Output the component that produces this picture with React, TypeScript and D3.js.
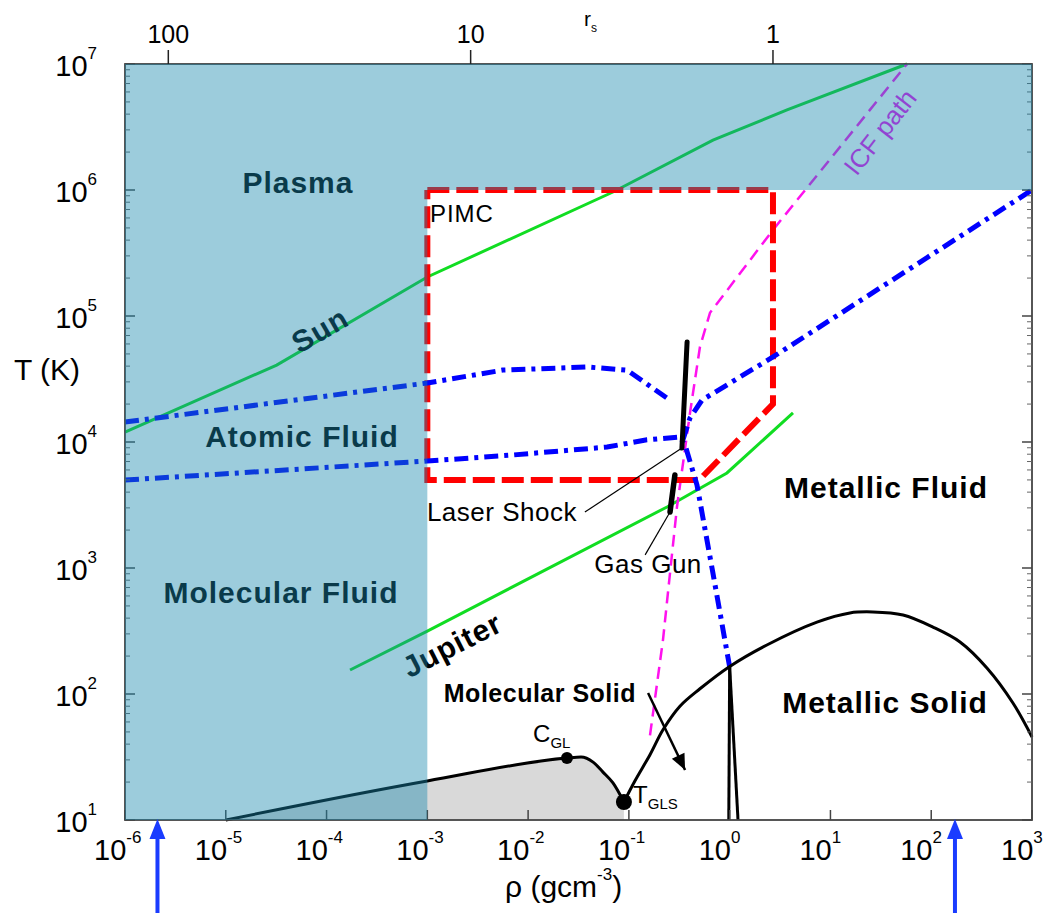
import React from "react";
import * as d3 from "d3";

type Pt = [number, number];

// [density g/cm^3, temperature K]
const sunPath: Pt[] = [[1e-6, 12000], [3.2e-5, 40800], [1e-3, 204000], [0.0695, 964000], [0.683, 2.49e6], [3.71, 4.32e6], [57.5, 1e7]];
const jupiterPath: Pt[] = [[1.71e-4, 155], [1e-3, 316], [0.239, 3050], [0.94, 5680], [4.25, 17000]];
const icfPath: Pt[] = [[0.162, 47], [0.218, 269], [0.3, 3050], [0.404, 17000], [0.507, 56800], [0.638, 106000], [1.0, 170000], [2.69, 482000], [57.5, 1e7]];
const dissocUpper: Pt[] = [[1e-6, 14400], [1e-3, 29400], [5.6e-3, 37200], [0.0384, 39400], [0.0957, 37200], [0.256, 21500]];
const dissocLower: Pt[] = [[1e-6, 4990], [1e-3, 7060], [7.08e-3, 7890], [0.0607, 9120], [0.151, 10400], [0.321, 10960], [0.361, 9460], [0.474, 4560], [0.682, 912], [1.0, 164]];
const metalBoundary: Pt[] = [[0.344, 10400], [0.404, 15500], [0.531, 21500], [2.69, 47300], [1000, 1e6]];
const meltCurve: Pt[] = [[0.0893, 13.9], [0.115, 20.5], [0.162, 33.0], [0.218, 52], [0.321, 80], [0.507, 110], [0.984, 164], [2.34, 245], [7.35, 372], [15.6, 440], [26.4, 448], [52.5, 424], [104, 340], [193, 259], [357, 161], [647, 84.9], [1000, 45.6]];
const coexCurve: Pt[] = [[1e-5, 10], [1e-3, 20.4], [0.0243, 31], [0.0335, 31.6], [0.0441, 28.8], [0.0553, 24], [0.0695, 19.7], [0.0893, 13.9]];
const solidLineA: Pt[] = [[1.0, 164], [0.98, 10]];
const solidLineB: Pt[] = [[1.0, 164], [1.21, 10]];
const pimcBox: Pt[] = [[1e-3, 1e6], [2.69, 1e6], [2.69, 2e4], [0.5, 5000], [1e-3, 5000], [1e-3, 1e6]];
const laserShock: Pt[] = [[0.378, 62200], [0.336, 8950]];
const gasGun: Pt[] = [[0.286, 5470], [0.256, 2780]];
const criticalPoints: Pt[] = [[0.0243, 31], [0.0893, 13.9]];

const xTickExps = [-6, -5, -4, -3, -2, -1, 0, 1, 2, 3];
const yTickExps = [1, 2, 3, 4, 5, 6, 7];
const rsTicks = [100, 10, 1];
const arrowRho = [2.1e-6, 172];

// label anchors in data coords
const regionLabels = [
  { text: "Plasma", at: [5.2e-5, 9.46e5] },
  { text: "Atomic Fluid", at: [5.7e-5, 9120] },
  { text: "Molecular Fluid", at: [3.53e-5, 527] },
  { text: "Metallic Fluid", at: [35.6, 3600] },
  { text: "Metallic Solid", at: [34.8, 70.6] },
];

const W = 1049;
const H = 913;
const FONT = "'Liberation Sans', Arial, Helvetica, sans-serif";

const x = d3.scaleLog().domain([1e-6, 1e3]).range([125, 1032]);
const y = d3.scaleLog().domain([10, 1e7]).range([820, 64]);

const lin = d3.line<Pt>().x((d) => x(d[0])).y((d) => y(d[1]));
const smooth = d3.line<Pt>().x((d) => x(d[0])).y((d) => y(d[1])).curve(d3.curveMonotoneX);
const rounded = d3.line<Pt>().x((d) => x(d[0])).y((d) => y(d[1])).curve(d3.curveCatmullRom.alpha(0.5));
const underCoex = d3.area<Pt>().x((d) => x(d[0])).y0(y(10)).y1((d) => y(d[1])).curve(d3.curveMonotoneX);

function arrowHead(x1: number, y1: number, x2: number, y2: number, len: number, half: number) {
  const a = Math.atan2(y2 - y1, x2 - x1);
  const bx = x2 - len * Math.cos(a);
  const by = y2 - len * Math.sin(a);
  const px = -Math.sin(a) * half;
  const py = Math.cos(a) * half;
  return `M${x2},${y2}L${bx + px},${by + py}L${bx - px},${by - py}Z`;
}

export default function App() {
  const [x0, x1] = x.range();
  const [yb, yt] = y.range();
  const overlay = `M${x0},${yt}H${x1}V${y(1e6)}H${x(1e-3)}V${yb}H${x0}Z`;

  const minorY: number[] = [];
  for (let e = 1; e < 7; e++) for (let k = 2; k < 10; k++) minorY.push(k * Math.pow(10, e));

  const ms0: Pt = [0.155, 102];
  const ms1: Pt = [0.361, 24.9];

  return (
    <svg width={W} height={H} style={{ position: "absolute", left: 0, top: 0, background: "#fff" }} fontFamily={FONT}>
      {/* gas-liquid coexistence region */}
      <path d={underCoex(coexCurve) || ""} fill="#000" fillOpacity={0.15} />

      {/* planetary / stellar paths */}
      <path d={lin(sunPath) || ""} fill="none" stroke="#11dd22" strokeWidth={3} />
      <path d={lin(jupiterPath) || ""} fill="none" stroke="#11dd22" strokeWidth={3} />
      <path d={lin(icfPath) || ""} fill="none" stroke="#ff11ee" strokeWidth={2.5} strokeDasharray="12,7" />

      {/* PIMC region */}
      <path d={lin(pimcBox) || ""} fill="none" stroke="#ff0000" strokeWidth={6} strokeDasharray="22,7" />

      {/* dissociation / metallization lines */}
      {[dissocUpper, dissocLower, metalBoundary].map((p, i) => (
        <path key={i} d={lin(p) || ""} fill="none" stroke="#0000ff" strokeWidth={5} strokeDasharray="14,6,4,6" />
      ))}

      {/* phase boundaries */}
      <path d={smooth(coexCurve) || ""} fill="none" stroke="#000" strokeWidth={3} />
      <path d={rounded(meltCurve) || ""} fill="none" stroke="#000" strokeWidth={3} />
      <path d={lin(solidLineA) || ""} fill="none" stroke="#000" strokeWidth={3} />
      <path d={lin(solidLineB) || ""} fill="none" stroke="#000" strokeWidth={3} />
      {criticalPoints.map((d, i) => (
        <circle key={i} cx={x(d[0])} cy={y(d[1])} r={i === 0 ? 6 : 8} fill="#000" />
      ))}

      {/* experiments */}
      <path d={lin(laserShock) || ""} stroke="#000" strokeWidth={5} strokeLinecap="round" />
      <path d={lin(gasGun) || ""} stroke="#000" strokeWidth={5.5} strokeLinecap="round" />
      <line x1={x(0.0366)} y1={y(2780)} x2={x(laserShock[1][0])} y2={y(laserShock[1][1])} stroke="#000" strokeWidth={1.2} />
      <line x1={x(0.145)} y1={y(1270)} x2={x(gasGun[1][0])} y2={y(gasGun[1][1])} stroke="#000" strokeWidth={1.2} />
      <line x1={x(ms0[0])} y1={y(ms0[1])} x2={x(ms1[0])} y2={y(ms1[1])} stroke="#000" strokeWidth={2.5} />
      <path d={arrowHead(x(ms0[0]), y(ms0[1]), x(ms1[0]), y(ms1[1]), 16, 7)} fill="#000" />

      {/* labels */}
      {regionLabels.map((l) => (
        <text key={l.text} x={x(l.at[0])} y={y(l.at[1])} textAnchor="middle" fontSize={30} fontWeight="bold" letterSpacing={1} fill="#000">
          {l.text}
        </text>
      ))}
      <text transform={`translate(${x(8.6e-5)},${y(77400)}) rotate(-30)`} textAnchor="middle" dy="0.35em" fontSize={30} fontWeight="bold" letterSpacing={1}>Sun</text>
      <text transform={`translate(${x(1.76e-3)},${y(245)}) rotate(-27)`} textAnchor="middle" dy="0.35em" fontSize={30} fontWeight="bold" letterSpacing={1}>Jupiter</text>
      <text x={x(0.0131)} y={y(86.5)} textAnchor="middle" fontSize={25} fontWeight="bold" letterSpacing={0.5}>Molecular Solid</text>
      <text x={x(1.06e-3)} y={y(557000)} fontSize={24} letterSpacing={1}>PIMC</text>
      <text x={x(0.0305)} y={y(2360)} textAnchor="end" fontSize={26} letterSpacing={0.5}>Laser Shock</text>
      <text x={x(0.155)} y={y(912)} textAnchor="middle" fontSize={26} letterSpacing={0.5}>Gas Gun</text>
      <text transform={`translate(${x(31)},${y(2.88e6)}) rotate(-52)`} textAnchor="middle" dy="0.35em" fontSize={26} fill="#ee11ee">ICF path</text>
      <text x={x(0.0112)} y={y(41.6)} fontSize={24}>C<tspan fontSize={15} dy={6}>GL</tspan></text>
      <text x={x(0.11)} y={y(13.6)} fontSize={24}>T<tspan fontSize={15} dy={6}>GLS</tspan></text>

      {/* frame and ticks (under the tint) */}
      <rect x={x0} y={yt} width={x1 - x0} height={yb - yt} fill="none" stroke="#444" strokeWidth={1.8} />
      {yTickExps.map((e) => (
        <g key={e}>
          <line x1={x0} x2={x0 + 10} y1={y(Math.pow(10, e))} y2={y(Math.pow(10, e))} stroke="#444" strokeWidth={1.5} />
          <line x1={x1} x2={x1 - 10} y1={y(Math.pow(10, e))} y2={y(Math.pow(10, e))} stroke="#444" strokeWidth={1.5} />
        </g>
      ))}
      {minorY.map((v) => (
        <g key={v}>
          <line x1={x0} x2={x0 + 5} y1={y(v)} y2={y(v)} stroke="#666" strokeWidth={1} />
          <line x1={x1} x2={x1 - 5} y1={y(v)} y2={y(v)} stroke="#666" strokeWidth={1} />
        </g>
      ))}
      {xTickExps.map((e) => (
        <line key={e} x1={x(Math.pow(10, e))} x2={x(Math.pow(10, e))} y1={yb} y2={yb - 10} stroke="#444" strokeWidth={1.5} />
      ))}

      {/* translucent blue plasma / low density region */}
      <path d={overlay} fill="rgb(23,136,173)" fillOpacity={0.427} />

      {/* top r_s axis */}
      {rsTicks.map((r) => {
        const px = x(2.69 / (r * r * r));
        return (
          <g key={r}>
            <line x1={px} x2={px} y1={yt} y2={yt - 14} stroke="#222" strokeWidth={1.5} />
            <text x={px} y={yt - 21} textAnchor="middle" fontSize={25}>{r}</text>
          </g>
        );
      })}
      <text x={584} y={26} fontSize={21}>r<tspan fontSize={12} dy={6}>s</tspan></text>

      {/* y tick labels */}
      {yTickExps.map((e) => (
        <text key={e} x={97} y={y(Math.pow(10, e)) + 12} textAnchor="end" fontSize={29}>
          10<tspan fontSize={17} dy={-17}>{e}</tspan>
        </text>
      ))}
      {/* x tick labels */}
      {xTickExps.map((e) => (
        <text key={e} x={x(Math.pow(10, e)) - 31} y={860} fontSize={29}>
          10<tspan fontSize={17} dy={-17}>{e}</tspan>
        </text>
      ))}

      <text x={14} y={380} fontSize={30}>T (K)</text>
      <text x={505} y={897} fontSize={30}>ρ (gcm<tspan fontSize={17} dy={-17}>-3</tspan><tspan dy={17}>)</tspan></text>

      {/* blue arrows */}
      {arrowRho.map((r) => {
        const px = x(r);
        return (
          <g key={r}>
            <line x1={px} x2={px} y1={H} y2={yb + 12} stroke="#1a3cff" strokeWidth={4} />
            <path d={arrowHead(px, H, px, yb - 1, 20, 8)} fill="#1a3cff" />
          </g>
        );
      })}
    </svg>
  );
}
